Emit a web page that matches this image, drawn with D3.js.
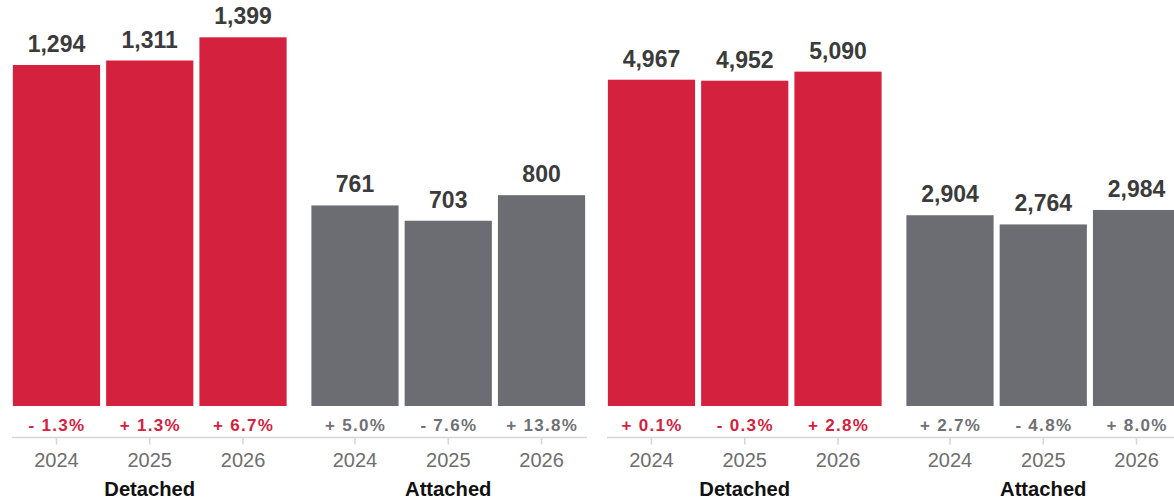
<!DOCTYPE html>
<html>
<head>
<meta charset="utf-8">
<script src="https://cdn.jsdelivr.net/npm/d3@7"></script>
<style>
  html, body { margin: 0; padding: 0; background: #ffffff; }
  svg { display: block; font-family: "Liberation Sans", Arial, Helvetica, sans-serif; }
</style>
</head>
<body>
<svg id="chart" width="1174" height="504"></svg>
<script>
// Categories
const years = ["2024", "2025", "2026"];
const groups = ["Detached", "Attached"];

// Left panel values and year-over-year change (%)
const leftDetached = [1294, 1311, 1399];
const leftAttached = [761, 703, 800];
const leftDetachedChange = [-1.3, 1.3, 6.7];
const leftAttachedChange = [5.0, -7.6, 13.8];

// Right panel values and year-over-year change (%)
const rightDetached = [4967, 4952, 5090];
const rightAttached = [2904, 2764, 2984];
const rightDetachedChange = [0.1, -0.3, 2.8];
const rightAttachedChange = [2.7, -4.8, 8.0];

const RED = "#d4213d";
const GREY = "#6c6d72";
const barColor = { Detached: RED, Attached: GREY };
const pctColor = { Detached: RED, Attached: "#6f7075" };

const panels = [
  { offset: 0,   yMax: 1533, values: [leftDetached, leftAttached],   changes: [leftDetachedChange, leftAttachedChange] },
  { offset: 595, yMax: 6150, values: [rightDetached, rightAttached], changes: [rightDetachedChange, rightAttachedChange] }
];

const svg = d3.select("#chart");
const baseY = 406;     // bar baseline
const axisY = 437.5;   // horizontal axis line

const xGroup = d3.scaleBand().domain(groups).range([11, 587]).paddingInner(0.0705).paddingOuter(0);
const xYear = d3.scaleBand().domain(years).range([0, xGroup.bandwidth()]).paddingInner(0.065).paddingOuter(0.02);

const fmtNum = d3.format(",");
const fmtPct = v => (v < 0 ? "- " : "+ ") + d3.format(".1f")(Math.abs(v)) + "%";

panels.forEach(p => {
  const y = d3.scaleLinear().domain([0, p.yMax]).range([baseY, 2]);
  const panel = svg.append("g").attr("transform", `translate(${p.offset},0)`);

  // continuous axis line across the panel
  panel.append("line")
    .attr("x1", 12).attr("x2", 587)
    .attr("y1", axisY).attr("y2", axisY)
    .attr("stroke", "#d6d6d6").attr("stroke-width", 1.6);

  groups.forEach((grp, gi) => {
    const g = panel.append("g").attr("transform", `translate(${xGroup(grp)},0)`);
    const rows = years.map((yr, i) => ({ year: yr, value: p.values[gi][i], change: p.changes[gi][i] }));

    g.selectAll("rect.bar").data(rows).join("rect")
      .attr("class", "bar")
      .attr("x", d => xYear(d.year))
      .attr("width", xYear.bandwidth())
      .attr("y", d => y(d.value))
      .attr("height", d => y(0) - y(d.value))
      .attr("fill", barColor[grp]);

    g.selectAll("text.val").data(rows).join("text")
      .attr("class", "val")
      .attr("x", d => xYear(d.year) + xYear.bandwidth() / 2)
      .attr("y", d => y(d.value) - 13)
      .attr("text-anchor", "middle")
      .attr("font-size", 23)
      .attr("font-weight", "bold")
      .attr("fill", "#3b3b3b")
      .text(d => fmtNum(d.value));

    g.selectAll("text.pct").data(rows).join("text")
      .attr("class", "pct")
      .attr("x", d => xYear(d.year) + xYear.bandwidth() / 2 + 0.6)
      .attr("y", 431)
      .attr("text-anchor", "middle")
      .attr("font-size", 17)
      .attr("font-weight", "bold")
      .attr("letter-spacing", 1.3)
      .attr("fill", pctColor[grp])
      .text(d => fmtPct(d.change));

    const axis = g.append("g")
      .attr("transform", `translate(0,${axisY})`)
      .call(d3.axisBottom(xYear).tickSize(7).tickSizeOuter(0));
    axis.select(".domain").remove();
    axis.selectAll(".tick line").attr("stroke", "#d6d6d6").attr("stroke-width", 1.6);
    axis.selectAll(".tick text")
      .attr("y", 29).attr("dy", null)
      .attr("font-size", 20)
      .attr("font-family", "Liberation Sans, Arial, sans-serif")
      .attr("fill", "#6e6e6e");

    g.append("text")
      .attr("x", xGroup.bandwidth() / 2)
      .attr("y", 496)
      .attr("text-anchor", "middle")
      .attr("font-size", 20.2)
      .attr("font-weight", "bold")
      .attr("fill", "#111111")
      .text(grp);
  });
});
</script>
</body>
</html>
